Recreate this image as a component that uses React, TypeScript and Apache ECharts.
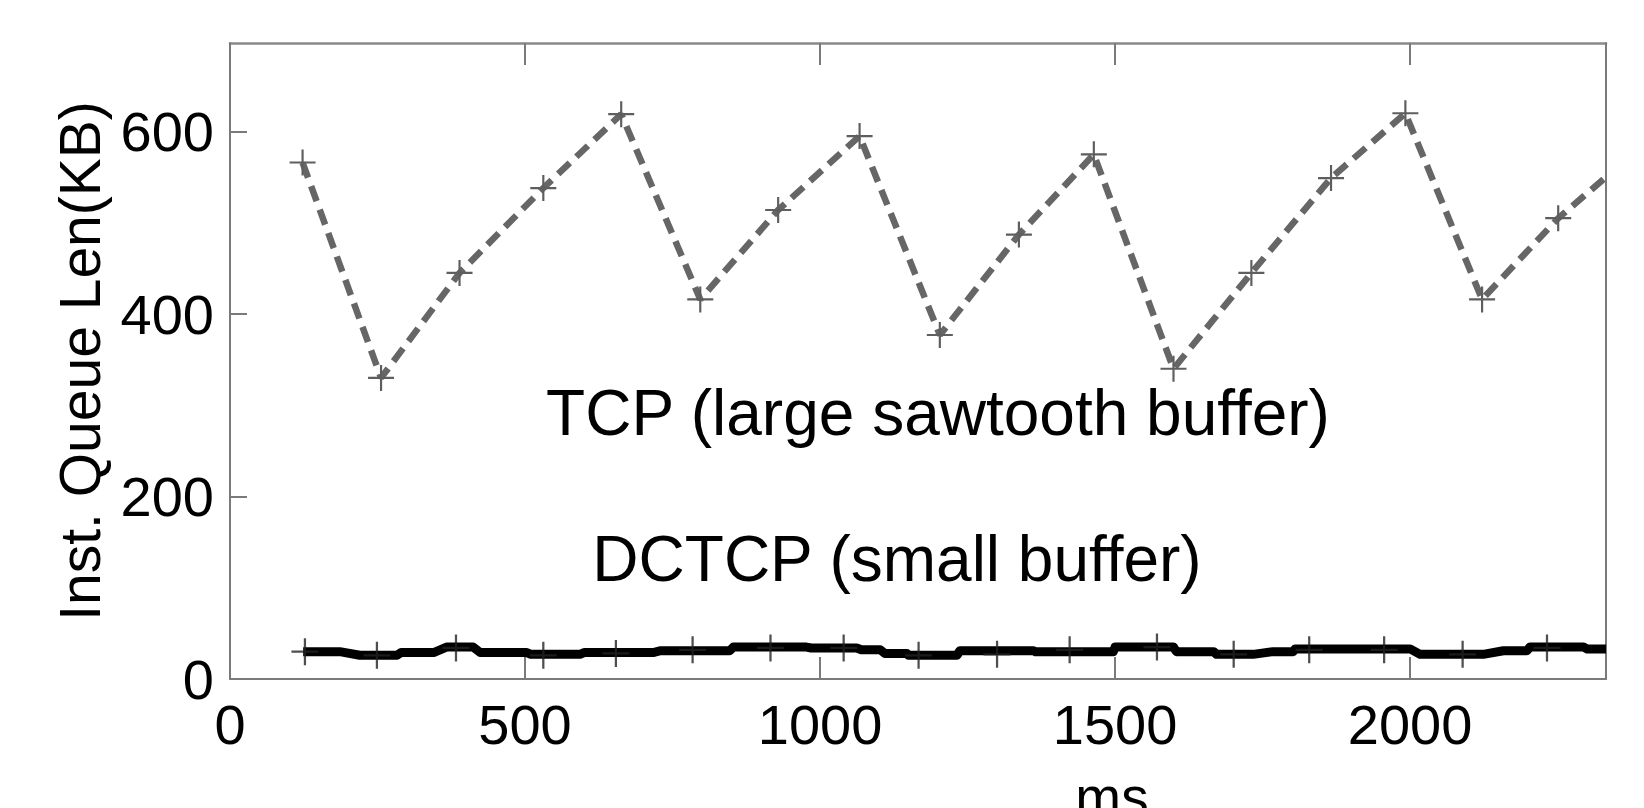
import React, { useEffect, useRef } from "react";
import * as echarts from "echarts";

// TCP (large sawtooth buffer) — sampled points, ms / KB
const TCP_MS = [123, 256, 389, 531, 663, 797, 929, 1067, 1203, 1337, 1464, 1599, 1731, 1866, 1992, 2122, 2251, 2332];
const TCP_KB = [566, 330, 445, 538, 619, 416, 514, 595, 377, 487, 575, 340, 445, 549, 620, 416, 505, 550];

// DCTCP (small buffer) — line trace, ms / KB
const DCTCP_LINE_MS = [124, 186, 220, 283, 290, 345, 367, 412, 424, 503, 510, 593, 600, 717, 730, 847, 853, 977, 985, 1062, 1070, 1102, 1110, 1147, 1150, 1232, 1237, 1362, 1365, 1497, 1500, 1599, 1604, 1667, 1672, 1734, 1768, 1802, 1805, 2000, 2017, 2124, 2158, 2198, 2203, 2294, 2300, 2332];
const DCTCP_LINE_KB = [30, 30, 26, 26, 29, 29, 35, 35, 29, 29, 27, 27, 29, 29, 31, 31, 35, 35, 34, 34, 32, 32, 28, 28, 26, 26, 31, 31, 30, 30, 35, 35, 30, 30, 27, 27, 30, 30, 33, 33, 27, 27, 31, 31, 35, 35, 33, 33];

// DCTCP sample markers
const DCTCP_MARK_MS = [127, 249, 383, 531, 654, 784, 916, 1040, 1167, 1300, 1423, 1571, 1701, 1829, 1956, 2089, 2232];
const DCTCP_MARK_KB = [30, 26, 34, 26, 28, 32, 34, 34, 26, 27, 32, 35, 27, 32, 32, 27, 34];

const X_TICKS = [0, 500, 1000, 1500, 2000];
const Y_TICKS = [0, 200, 400, 600];
const X_MAX = 2332;
const Y_MAX = 697;

const LABEL_TCP = "TCP (large sawtooth buffer)";
const LABEL_DCTCP = "DCTCP (small buffer)";
const Y_NAME = "Inst. Queue Len(KB)";
const X_NAME = "ms";

const PLUS = "path://M11,0H13V11H24V13H13V24H11V13H0V11H11Z";
const FONT = '"Liberation Sans", Arial, Helvetica, sans-serif';
const AXIS_COLOR = "#7a7a7a";

export default function App() {
  const ref = useRef<HTMLDivElement>(null);

  useEffect(() => {
    if (!ref.current) return;
    const chart = echarts.init(ref.current, undefined, { renderer: "svg" });

    const tcpData = TCP_MS.map((x, i) =>
      i === TCP_MS.length - 1 ? { value: [x, TCP_KB[i]], symbol: "none" } : [x, TCP_KB[i]]
    );
    const dctcpLine = DCTCP_LINE_MS.map((x, i) => [x, DCTCP_LINE_KB[i]]);
    const dctcpMarks = DCTCP_MARK_MS.map((x, i) => [x, DCTCP_MARK_KB[i]]);

    const tickFmt = (ticks: number[]) => (v: number) => (ticks.includes(v) ? String(v) : "");

    const option: any = {
      animation: false,
      backgroundColor: "#ffffff",
      textStyle: { fontFamily: FONT },
      grid: { left: 230, right: 38, top: 43, bottom: 129, containLabel: false, outerBoundsMode: "none" },
      xAxis: [
        {
          type: "value",
          min: 0,
          max: X_MAX,
          interval: 500,
          position: "bottom",
          name: X_NAME,
          nameLocation: "middle",
          nameGap: 90,
          nameTextStyle: { fontSize: 55, color: "#000", fontFamily: FONT, padding: [0, 0, 0, 388] },
          axisLine: { show: true, onZero: false, lineStyle: { color: AXIS_COLOR, width: 2 } },
          axisTick: { show: true, inside: true, length: 22, lineStyle: { color: AXIS_COLOR, width: 2 } },
          axisLabel: { fontSize: 56, color: "#000", margin: 17, fontFamily: FONT, formatter: tickFmt(X_TICKS), showMaxLabel: false },
          splitLine: { show: false },
        },
        {
          type: "value",
          min: 0,
          max: X_MAX,
          interval: 500,
          position: "top",
          axisLine: { show: true, onZero: false, lineStyle: { color: "#8a8a8a", width: 2.5 } },
          axisTick: { show: true, inside: true, length: 22, lineStyle: { color: AXIS_COLOR, width: 2 } },
          axisLabel: { show: false },
          splitLine: { show: false },
        },
      ],
      yAxis: [
        {
          type: "value",
          min: 0,
          max: Y_MAX,
          interval: 200,
          position: "left",
          name: Y_NAME,
          nameLocation: "middle",
          nameGap: 122,
          nameTextStyle: { fontSize: 57, color: "#000", fontFamily: FONT },
          axisLine: { show: true, onZero: false, lineStyle: { color: AXIS_COLOR, width: 2 } },
          axisTick: { show: true, inside: true, length: 17, lineStyle: { color: AXIS_COLOR, width: 2 } },
          axisLabel: { fontSize: 56, color: "#000", margin: 16, fontFamily: FONT, formatter: tickFmt(Y_TICKS), showMaxLabel: false },
          splitLine: { show: false },
        },
        {
          type: "value",
          min: 0,
          max: Y_MAX,
          interval: 200,
          position: "right",
          axisLine: { show: true, onZero: false, lineStyle: { color: AXIS_COLOR, width: 2 } },
          axisTick: { show: false },
          axisLabel: { show: false },
          splitLine: { show: false },
        },
      ],
      series: [
        {
          name: "TCP",
          type: "line",
          data: tcpData,
          clip: true,
          symbol: PLUS,
          symbolSize: 26,
          showSymbol: true,
          showAllSymbol: true,
          lineStyle: { color: "#666666", width: 6.5, type: [16, 9] },
          itemStyle: { color: "#5e5e5e", borderWidth: 0 },
          z: 3,
        },
        {
          name: "DCTCP",
          type: "line",
          data: dctcpLine,
          clip: true,
          symbol: "none",
          lineStyle: { color: "#000000", width: 9, join: "round" },
          z: 3,
        },
        {
          name: "DCTCP samples",
          type: "scatter",
          data: dctcpMarks,
          symbol: PLUS,
          symbolSize: 27,
          itemStyle: { color: "#222222", borderWidth: 0 },
          z: 4,
        },
      ],
      graphic: [
        {
          type: "text",
          x: 938,
          y: 413,
          style: { text: LABEL_TCP, fontSize: 64, fontFamily: FONT, fill: "#000", textAlign: "center", textVerticalAlign: "middle" },
          z: 10,
        },
        {
          type: "text",
          x: 897,
          y: 559,
          style: { text: LABEL_DCTCP, fontSize: 64, fontFamily: FONT, fill: "#000", textAlign: "center", textVerticalAlign: "middle" },
          z: 10,
        },
      ],
    };

    chart.setOption(option);
    return () => chart.dispose();
  }, []);

  return (
    <div
      ref={ref}
      style={{ position: "fixed", left: 0, top: 0, width: 1644, height: 808, background: "#fff" }}
    />
  );
}
